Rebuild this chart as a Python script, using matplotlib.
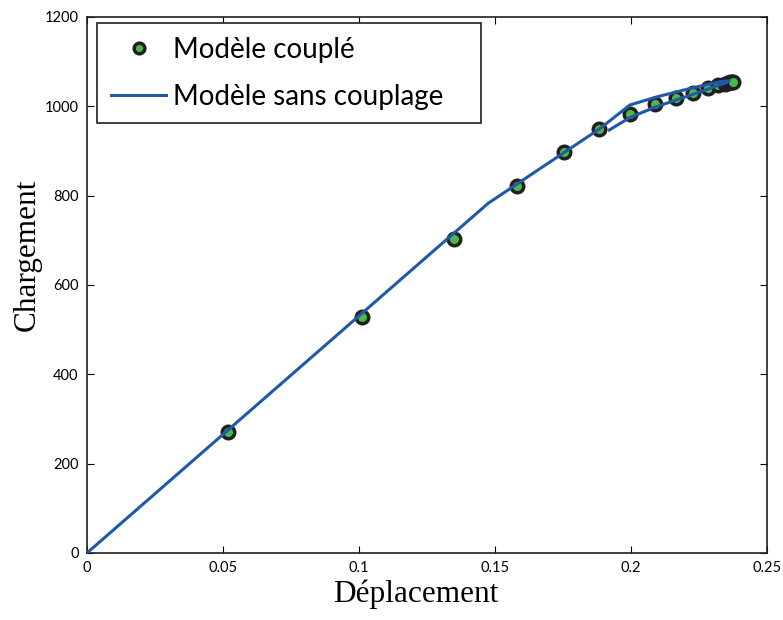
import matplotlib.pyplot as plt

# coupled model (markers)
x_couple = [0.0518, 0.1011, 0.1349, 0.1581, 0.1754, 0.1883, 0.1996, 0.2088,
            0.2165, 0.2229, 0.2284, 0.2321, 0.2345, 0.2355, 0.2363, 0.2370, 0.2376]
y_couple = [271, 528, 703, 822, 898, 949, 982, 1005,
            1018, 1029, 1040, 1048, 1051, 1053, 1054, 1055, 1055]

# uncoupled model (line, two branches)
x_sans = [0.0, 0.1475, 0.1883, 0.1996, 0.2094, 0.2217, 0.2327, 0.2360]
y_sans = [0, 783, 949, 1003, 1021, 1040, 1055, 1057]
x_sans2 = [0.1920, 0.1996, 0.2088, 0.2165, 0.2229, 0.2284, 0.2321, 0.2350]
y_sans2 = [947, 975, 998, 1014, 1027, 1039, 1047, 1053]

xticks = [0, 0.05, 0.1, 0.15, 0.2, 0.25]
xtick_labels = ['0', '0.05', '0.1', '0.15', '0.2', '0.25']
yticks = [0, 200, 400, 600, 800, 1000, 1200]

blue = '#1f5aa8'
green = '#4cb848'

fig = plt.figure(figsize=(7.83, 6.2), dpi=100)
ax = fig.add_axes([0.1111, 0.1081, 0.8685, 0.8645])

ax.plot(x_couple, y_couple, 'o', ms=9, mfc=green, mec='#231f20', mew=2.5,
        label='Modèle couplé', zorder=2)
ax.plot(x_sans, y_sans, '-', color=blue, lw=2.2, label='Modèle sans couplage', zorder=3)
ax.plot(x_sans2, y_sans2, '-', color=blue, lw=2.2, zorder=3)

ax.set_xlim(0, 0.25)
ax.set_ylim(0, 1200)
ax.set_xticks(xticks)
ax.set_xticklabels(xtick_labels)
ax.set_yticks(yticks)
ax.tick_params(direction='in', top=True, right=True, length=5, width=0.8,
               labelsize=10.5, pad=6)
for lab in ax.get_xticklabels() + ax.get_yticklabels():
    lab.set_family('Lato')
for sp in ax.spines.values():
    sp.set_linewidth(1.2)
    sp.set_color('#231f20')

ax.set_xlabel('Déplacement', family='Liberation Serif', fontsize=22.5)
ax.set_ylabel('Chargement', family='Liberation Serif', fontsize=22.5)
ax.xaxis.set_label_coords(0.484, -0.05)
ax.yaxis.set_label_coords(-0.066, 0.556)

leg = ax.legend(loc='upper left', bbox_to_anchor=(0.0147, 0.0, 0.5647, 0.989),
                mode='expand', prop={'family': 'Lato', 'size': 20},
                fancybox=False, framealpha=1, edgecolor='#231f20',
                borderaxespad=0, handlelength=2.0, handletextpad=0.25,
                labelspacing=0.75, borderpad=0.5, markerscale=0.85)
leg.get_frame().set_linewidth(1.2)

fig.savefig('out.png', dpi=100)
